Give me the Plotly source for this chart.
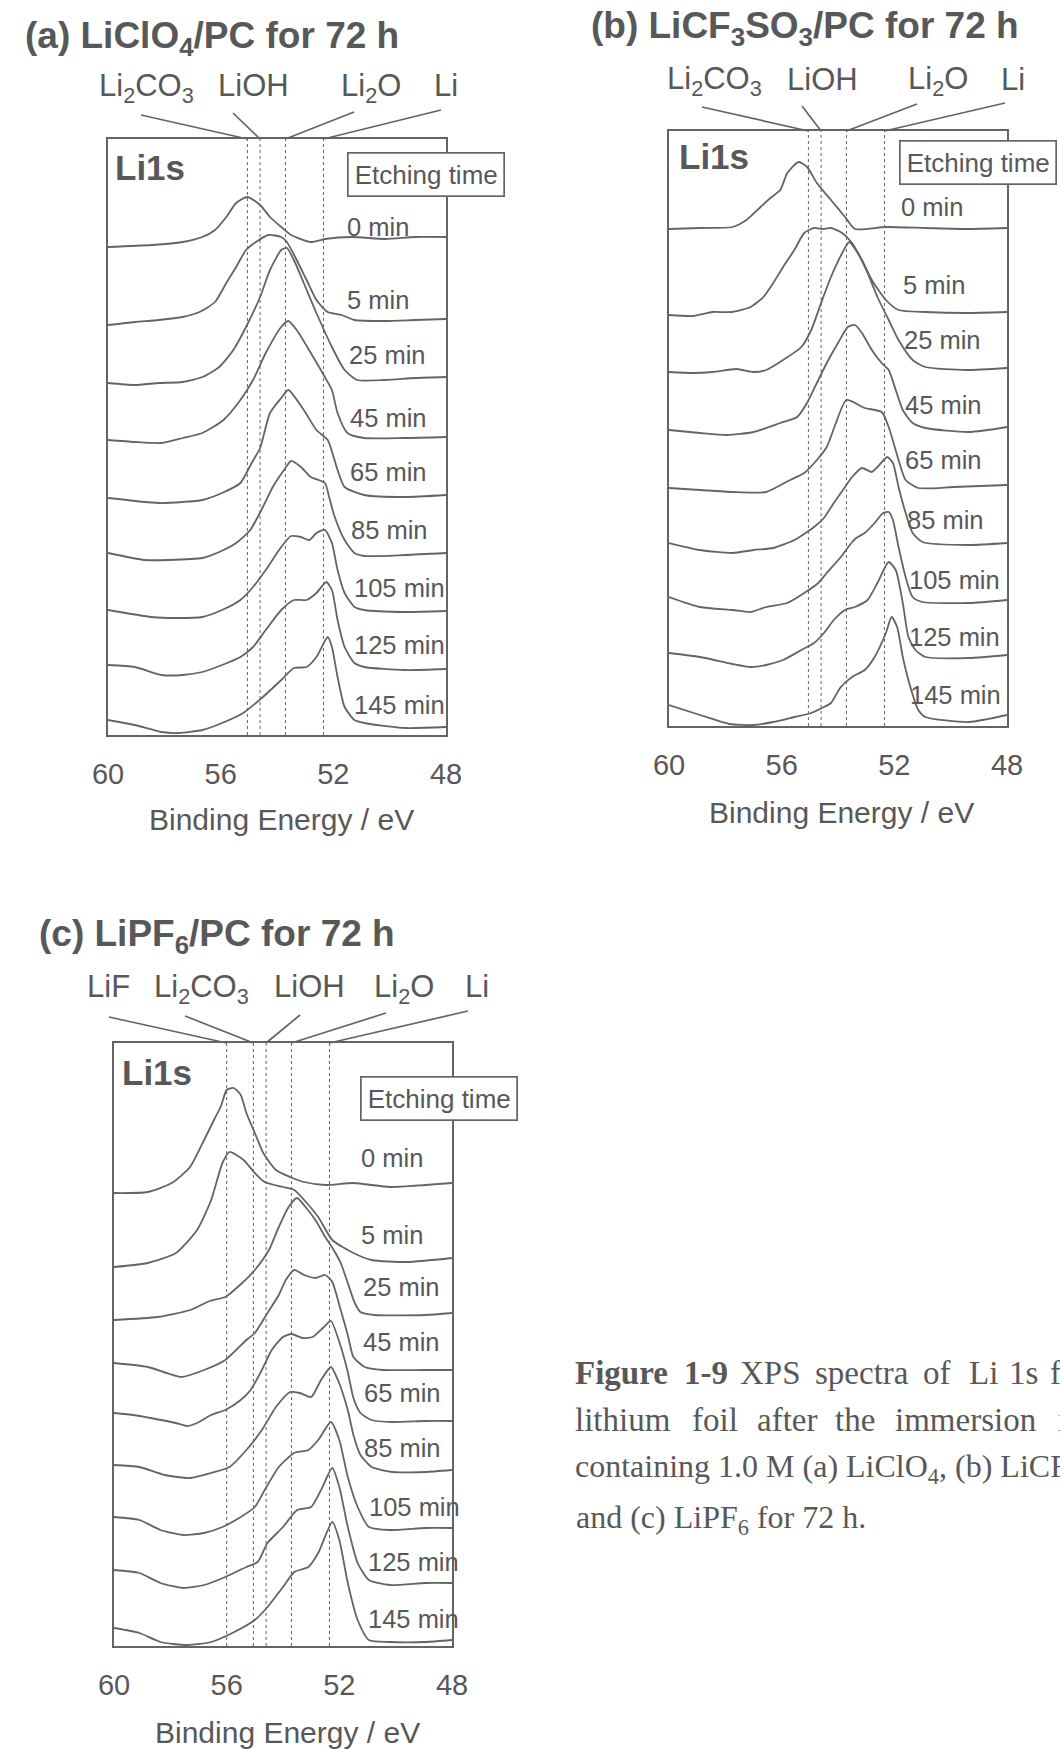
import plotly.graph_objects as go

W, H = 1060, 1749
LINE = "#646464"
TXT = "#585858"
SANS = "Liberation Sans, Arial, sans-serif"
SERIF = "Liberation Serif, Times New Roman, serif"

# ---------------- data ----------------
TIMES = ["0 min", "5 min", "25 min", "45 min", "65 min", "85 min", "105 min", "125 min", "145 min"]
TICKS = [60, 56, 52, 48]

COMPOUNDS_AB = ["Li<sub>2</sub>CO<sub>3</sub>", "LiOH", "Li<sub>2</sub>O", "Li"]
COMPOUNDS_C = ["LiF", "Li<sub>2</sub>CO<sub>3</sub>", "LiOH", "Li<sub>2</sub>O", "Li"]
REF_E_AB = [55.05, 54.6, 53.7, 52.35]
REF_E_C = [56.0, 55.05, 54.6, 53.7, 52.35]

# (a) LiClO4/PC  -- binding energy (eV) / intensity (a.u.)
A_E = [
    [60, 58.45, 57.35, 56.65, 56.2, 55.8, 55.45, 55.05, 54.6, 54.25, 53.85, 53.5, 52.8, 52.3, 51.35, 50.15, 49.1, 48.0],
    [60, 59.05, 58.2, 57.35, 56.75, 56.2, 55.8, 55.45, 55.1, 54.75, 54.3, 53.85, 53.65, 53.3, 52.95, 52.6, 52.2, 51.7, 51.25, 50.15, 49.1, 48.0],
    [60, 59.05, 58.2, 57.35, 56.65, 56.05, 55.55, 55.1, 54.6, 54.25, 53.85, 53.65, 53.4, 53.05, 52.6, 52.05, 51.6, 51.15, 50.15, 49.1, 48.0],
    [60, 59.05, 58.1, 57.35, 56.65, 55.9, 55.3, 54.85, 54.4, 53.85, 53.6, 53.3, 52.8, 52.3, 52.05, 51.85, 51.5, 50.9, 49.45, 48.0],
    [60, 58.2, 57.35, 56.65, 55.95, 55.3, 54.9, 54.6, 54.25, 53.85, 53.6, 53.05, 52.6, 52.2, 51.85, 51.6, 50.9, 49.45, 48.0],
    [60, 58.7, 57.85, 56.65, 56.05, 55.45, 54.95, 54.5, 54.15, 53.75, 53.5, 53.15, 52.8, 52.3, 52.15, 51.95, 51.6, 51.25, 50.9, 49.45, 48.0],
    [60, 58.45, 57.6, 56.65, 55.95, 55.3, 54.85, 54.4, 53.85, 53.5, 53.15, 52.85, 52.6, 52.3, 52.05, 51.85, 51.6, 51.25, 50.9, 49.45, 48.0],
    [60, 59.05, 58.1, 57.35, 56.65, 55.95, 55.3, 54.85, 54.4, 53.85, 53.4, 52.95, 52.6, 52.25, 52.05, 51.85, 51.6, 51.25, 50.9, 49.45, 48.0],
    [60, 59.05, 58.1, 57.5, 56.65, 55.95, 55.2, 54.5, 53.85, 53.4, 52.95, 52.6, 52.2, 52.05, 51.85, 51.6, 51.25, 50.9, 49.45, 48.0],
]
A_I = [
    [488, 490, 493, 498, 505, 518, 532, 538, 530, 518, 508, 500, 493, 496, 498, 496, 498, 498],
    [410, 413, 415, 418, 423, 433, 452, 468, 485, 493, 500, 498, 493, 475, 455, 435, 423, 420, 415, 414, 415, 416],
    [352, 350, 352, 353, 358, 368, 385, 408, 438, 465, 485, 487, 475, 452, 422, 388, 365, 355, 355, 357, 358],
    [295, 293, 292, 297, 302, 315, 335, 355, 382, 408, 414, 405, 382, 358, 345, 322, 302, 297, 297, 298],
    [237, 232, 233, 235, 242, 252, 272, 287, 322, 337, 345, 325, 305, 295, 265, 248, 240, 238, 240],
    [182, 175, 175, 177, 183, 192, 205, 228, 248, 265, 274, 268, 258, 252, 238, 218, 195, 182, 179, 180, 182],
    [125, 118, 117, 118, 125, 135, 148, 165, 188, 199, 198, 195, 202, 205, 192, 165, 142, 128, 125, 123, 124],
    [70, 68, 60, 60, 63, 70, 78, 88, 105, 125, 135, 135, 142, 153, 145, 115, 88, 72, 68, 65, 66],
    [15, 10, 3, 2, 5, 12, 22, 38, 55, 67, 68, 78, 98, 88, 58, 28, 15, 12, 7, 8],
]

# (b) LiCF3SO3/PC
B_E = [
    [60, 58.9, 57.75, 57.25, 56.75, 56.4, 56.05, 55.8, 55.4, 55.1, 54.75, 54.25, 53.75, 53.4, 52.3, 50.9, 49.45, 48.0],
    [60, 59.15, 58.45, 57.75, 57.1, 56.65, 56.3, 55.95, 55.55, 55.2, 54.85, 54.55, 54.25, 53.85, 53.5, 53.15, 52.8, 52.3, 51.85, 50.9, 49.45, 48.0],
    [60, 59.15, 58.45, 57.6, 57.0, 56.55, 55.95, 55.3, 54.95, 54.6, 54.25, 53.85, 53.6, 53.3, 52.95, 52.6, 52.2, 51.85, 51.35, 50.9, 49.45, 48.0],
    [60, 58.9, 57.95, 57.0, 56.05, 55.45, 55.1, 54.75, 54.4, 54.0, 53.65, 53.4, 53.15, 52.8, 52.45, 52.2, 51.95, 51.7, 51.35, 50.9, 49.35, 48.0],
    [60, 58.9, 57.75, 56.55, 55.7, 55.2, 54.75, 54.4, 54.1, 53.7, 53.05, 52.45, 52.2, 51.85, 51.6, 51.15, 49.9, 48.0],
    [60, 58.9, 57.75, 57.0, 56.3, 55.55, 54.85, 54.5, 54.15, 53.75, 53.5, 53.15, 52.8, 52.6, 52.25, 52.05, 51.85, 51.6, 51.35, 51.0, 49.35, 48.0],
    [60, 58.9, 57.75, 57.1, 56.55, 55.8, 55.2, 54.7, 54.4, 53.9, 53.5, 53.35, 53.05, 52.7, 52.4, 52.2, 52.05, 51.85, 51.6, 51.35, 51.0, 49.35, 48.0],
    [60, 58.9, 57.75, 57.1, 56.55, 55.95, 55.3, 54.85, 54.5, 54.15, 53.75, 53.4, 52.95, 52.6, 52.2, 51.95, 51.7, 51.5, 51.25, 50.9, 49.35, 48.0],
    [60, 58.9, 57.85, 57.0, 56.3, 55.55, 54.95, 54.5, 54.25, 53.9, 53.5, 53.05, 52.7, 52.3, 52.1, 51.9, 51.7, 51.4, 51.15, 50.9, 49.35, 48.0],
]
B_I = [
    [497, 498, 499, 506, 519, 528, 536, 553, 564, 559, 543, 526, 509, 497, 499, 498, 497, 498],
    [411, 410, 414, 414, 419, 429, 443, 459, 476, 493, 498, 497, 498, 493, 483, 466, 446, 426, 416, 414, 413, 414],
    [354, 353, 354, 357, 354, 356, 366, 379, 396, 423, 449, 473, 484, 473, 453, 429, 406, 386, 366, 359, 356, 358],
    [296, 293, 291, 294, 303, 309, 323, 343, 363, 383, 399, 401, 393, 376, 363, 356, 336, 316, 303, 298, 294, 299],
    [238, 236, 234, 234, 246, 253, 266, 279, 301, 326, 318, 314, 299, 266, 246, 238, 239, 241],
    [183, 176, 173, 176, 178, 186, 199, 208, 223, 239, 249, 258, 254, 259, 269, 263, 239, 213, 193, 184, 181, 183],
    [129, 119, 116, 114, 119, 123, 133, 143, 153, 169, 184, 188, 193, 203, 213, 214, 206, 179, 149, 129, 124, 123, 126],
    [73, 69, 62, 59, 61, 66, 76, 83, 93, 106, 116, 119, 126, 143, 164, 156, 123, 89, 76, 69, 68, 71],
    [21, 11, 2, 1, 4, 9, 13, 19, 23, 39, 49, 56, 69, 93, 109, 99, 69, 36, 16, 9, 4, 11],
]

# (c) LiPF6/PC
C_E = [
    [60, 58.8, 57.95, 57.3, 56.8, 56.45, 56.2, 56.0, 55.75, 55.5, 55.3, 55.0, 54.7, 54.25, 53.75, 53.25, 52.5, 51.5, 50.2, 48.95, 48.0],
    [60, 58.8, 57.8, 57.05, 56.55, 56.15, 55.9, 55.4, 55.0, 54.65, 54.0, 53.6, 53.25, 52.75, 52.25, 51.5, 50.85, 49.6, 48.0],
    [60, 58.45, 57.3, 56.6, 56.05, 55.45, 55.0, 54.5, 54.15, 53.8, 53.5, 53.2, 52.85, 52.5, 52.2, 51.95, 51.7, 51.45, 51.25, 50.75, 48.95, 48.0],
    [60, 58.8, 57.6, 56.8, 56.05, 55.3, 55.0, 54.55, 54.15, 53.9, 53.6, 53.25, 52.85, 52.5, 52.25, 52.0, 51.7, 51.5, 51.1, 50.45, 48.95, 48.0],
    [60, 59.3, 58.7, 57.8, 57.4, 57.05, 56.55, 56.05, 55.5, 55.15, 54.75, 54.4, 54.0, 53.7, 53.3, 52.95, 52.55, 52.3, 52.0, 51.7, 51.5, 51.25, 50.85, 50.1, 48.95, 48.0],
    [60, 59.1, 58.2, 57.3, 56.55, 55.9, 55.3, 54.75, 54.25, 53.75, 53.4, 53.0, 52.65, 52.3, 52.05, 51.7, 51.5, 51.25, 50.85, 50.1, 48.95, 48.0],
    [60, 59.1, 58.35, 57.55, 56.8, 56.15, 55.5, 55.0, 54.65, 54.15, 53.6, 53.1, 52.75, 52.3, 52.0, 51.7, 51.35, 50.95, 50.2, 48.95, 48.0],
    [60, 59.1, 58.35, 57.55, 56.8, 56.05, 55.3, 54.9, 54.55, 54.0, 53.5, 53.0, 52.65, 52.25, 52.0, 51.7, 51.35, 50.95, 50.2, 48.95, 48.0],
    [60, 59.1, 58.35, 57.4, 56.55, 55.8, 55.0, 54.55, 54.0, 53.6, 53.1, 52.75, 52.25, 52.0, 51.7, 51.35, 50.95, 50.2, 48.95, 48.0],
]
C_I = [
    [453, 454, 463, 479, 506, 526, 540, 556, 558, 551, 533, 513, 493, 476, 469, 464, 461, 463, 459, 461, 463],
    [379, 383, 393, 416, 446, 483, 494, 486, 473, 464, 459, 456, 446, 429, 406, 393, 386, 384, 388],
    [326, 329, 336, 345, 349, 363, 376, 396, 419, 439, 448, 439, 426, 409, 396, 383, 363, 343, 334, 331, 331, 333],
    [283, 279, 269, 276, 286, 306, 313, 333, 351, 366, 376, 371, 368, 371, 364, 341, 311, 289, 279, 276, 276, 276],
    [233, 231, 228, 223, 220, 223, 231, 236, 246, 256, 276, 296, 309, 312, 308, 309, 319, 325, 304, 274, 248, 233, 226, 224, 225, 225],
    [181, 179, 171, 168, 173, 179, 196, 216, 239, 254, 253, 249, 266, 279, 266, 236, 211, 191, 179, 174, 174, 176],
    [129, 126, 116, 111, 113, 119, 129, 139, 156, 179, 193, 196, 206, 224, 206, 169, 139, 119, 116, 118, 118],
    [76, 73, 63, 58, 61, 69, 79, 84, 103, 119, 136, 139, 156, 178, 159, 119, 83, 66, 61, 63, 63],
    [18, 13, 4, 1, 4, 13, 26, 39, 59, 74, 79, 93, 124, 106, 63, 26, 6, 4, 4, 6],
]

# ---------------- layout (pixel positions) ----------------
PANELS = [
    dict(E=A_E, I=A_I, box=(108, 139, 446, 735),
         title="(a) LiClO<sub>4</sub>/PC for 72 h", title_pos=(23, 38),
         comps=COMPOUNDS_AB, refs=REF_E_AB,
         comp_pos=[(146, 88), (253, 86), (371, 88), (446, 86)],
         leaders=[(141, 115), (233, 113), (354, 112), (441, 110)],
         li1s=(113, 167), etch=(426, 175),
         tx=[345, 345, 347, 348, 348, 349, 352, 352, 352],
         ty=[227, 300, 355, 418, 472, 530, 588, 645, 705],
         xtitle=(281, 820)),
    dict(E=B_E, I=B_I, box=(669, 131, 1007, 726),
         title="(b) LiCF<sub>3</sub>SO<sub>3</sub>/PC for 72 h", title_pos=(589, 28),
         comps=COMPOUNDS_AB, refs=REF_E_AB,
         comp_pos=[(714, 81), (822, 79), (938, 81), (1013, 79)],
         leaders=[(702, 107), (802, 106), (917, 104), (1005, 103)],
         li1s=(677, 156), etch=(978, 162),
         tx=[899, 901, 902, 903, 903, 905, 907, 907, 908],
         ty=[207, 285, 340, 405, 460, 520, 580, 637, 695],
         xtitle=(841, 812)),
    dict(E=C_E, I=C_I, box=(114, 1043, 452, 1646),
         title="(c) LiPF<sub>6</sub>/PC for 72 h", title_pos=(37, 936),
         comps=COMPOUNDS_C, refs=REF_E_C,
         comp_pos=[(108, 987), (201, 989), (309, 987), (404, 989), (477, 987)],
         leaders=[(109, 1017), (185, 1016), (300, 1015), (386, 1013), (468, 1011)],
         li1s=(120, 1072), etch=(439, 1098),
         tx=[359, 359, 361, 361, 362, 362, 367, 366, 366],
         ty=[1158, 1235, 1287, 1342, 1393, 1448, 1507, 1562, 1619],
         xtitle=(287, 1732)),
]


def fx(x):
    return x / W


def fy(y):
    return 1 - y / H


fig = go.Figure()
annotations = []
shapes = []

for k, p in enumerate(PANELS):
    sfx = "" if k == 0 else str(k + 1)
    x0, y0, x1, y1 = p["box"]
    for E, I in zip(p["E"], p["I"]):
        fig.add_trace(go.Scatter(
            x=E, y=I, mode="lines", xaxis="x" + sfx, yaxis="y" + sfx,
            line=dict(color=LINE, width=1.8, shape="spline", smoothing=0.6),
            showlegend=False, hoverinfo="skip"))
    fig.layout["xaxis" + sfx] = dict(
        domain=[fx(x0), fx(x1)], range=[60, 48], anchor="y" + sfx,
        tickvals=TICKS, ticks="", showline=True, mirror=True, automargin=False,
        linecolor=LINE, linewidth=1.7, showgrid=False, zeroline=False,
        tickfont=dict(size=29, color=TXT, family=SANS), ticklabelstandoff=12)
    fig.layout["yaxis" + sfx] = dict(
        domain=[fy(y1), fy(y0)], range=[0, y1 - y0], anchor="x" + sfx,
        showticklabels=False, ticks="", showline=True, mirror=True, automargin=False,
        linecolor=LINE, linewidth=1.7, showgrid=False, zeroline=False)

    for e in p["refs"]:
        shapes.append(dict(type="line", xref="x" + sfx, yref="y" + sfx + " domain",
                           x0=e, x1=e, y0=0, y1=1,
                           line=dict(color=LINE, width=1, dash="3px,3px")))
    for (sx, sy), e in zip(p["leaders"], p["refs"]):
        ex = x0 + (60 - e) / 12 * (x1 - x0)
        shapes.append(dict(type="line", xref="paper", yref="paper",
                           x0=fx(sx), y0=fy(sy), x1=fx(ex), y1=fy(y0),
                           line=dict(color=LINE, width=1.7)))
    for txt, (cx, cy) in zip(p["comps"], p["comp_pos"]):
        annotations.append(dict(text=txt, x=fx(cx), y=fy(cy), xref="paper", yref="paper",
                                xanchor="center", yanchor="middle", showarrow=False,
                                font=dict(size=31, color=TXT, family=SANS)))
    tx0, ty0 = p["title_pos"]
    annotations.append(dict(text="<b>" + p["title"] + "</b>", x=fx(tx0), y=fy(ty0),
                            xref="paper", yref="paper", xanchor="left", yanchor="middle",
                            showarrow=False, font=dict(size=37, color=TXT, family=SANS)))
    annotations.append(dict(text="<b>Li1s</b>", x=fx(p["li1s"][0]), y=fy(p["li1s"][1]),
                            xref="paper", yref="paper", xanchor="left", yanchor="middle",
                            showarrow=False, font=dict(size=35, color=TXT, family=SANS)))
    annotations.append(dict(text="Etching time", x=fx(p["etch"][0]), y=fy(p["etch"][1]),
                            xref="paper", yref="paper", xanchor="center", yanchor="middle",
                            showarrow=False, bgcolor="white", bordercolor=LINE,
                            borderwidth=1.7, borderpad=6,
                            font=dict(size=26, color=TXT, family=SANS)))
    for t, lx, ly in zip(TIMES, p["tx"], p["ty"]):
        annotations.append(dict(text=t, x=fx(lx), y=fy(ly), xref="paper", yref="paper",
                                xanchor="left", yanchor="middle", showarrow=False,
                                font=dict(size=25.5, color=TXT, family=SANS)))
    annotations.append(dict(text="Binding Energy / eV", x=fx(p["xtitle"][0]), y=fy(p["xtitle"][1]),
                            xref="paper", yref="paper", xanchor="center", yanchor="middle",
                            showarrow=False, font=dict(size=30, color=TXT, family=SANS)))

# ---------------- caption (cut off by the right page edge, as in the source) ----------------
CAP_FONT = dict(size=33, color=TXT, family=SERIF)
line1 = [("<b>Figure</b>", 573), ("<b>1-9</b>", 682), ("XPS", 738), ("spectra", 813),
         ("of", 921), ("Li", 967), ("1s", 1007), ("for", 1048)]
line2 = [("lithium", 573), ("foil", 690), ("after", 755), ("the", 833),
         ("immersion", 893), ("in", 1056)]
for words, yy in ((line1, 1373), (line2, 1420)):
    for w, xx in words:
        annotations.append(dict(text=w, x=fx(xx), y=fy(yy), xref="paper", yref="paper",
                                xanchor="left", yanchor="middle", showarrow=False,
                                font=CAP_FONT))
annotations.append(dict(text="containing 1.0 M (a) LiClO<sub>4</sub>, (b) LiCF<sub>3</sub>SO<sub>3</sub>,",
                        x=fx(573), y=fy(1468), xref="paper", yref="paper",
                        xanchor="left", yanchor="middle", showarrow=False,
                        font=dict(size=32, color=TXT, family=SERIF)))
annotations.append(dict(text="and (c) LiPF<sub>6</sub> for 72 h.",
                        x=fx(574), y=fy(1519), xref="paper", yref="paper",
                        xanchor="left", yanchor="middle", showarrow=False,
                        font=dict(size=32, color=TXT, family=SERIF)))

fig.update_layout(template="none", width=W, height=H, autosize=False,
                  margin=dict(l=0, r=0, t=0, b=0, pad=0, autoexpand=False),
                  paper_bgcolor="white", plot_bgcolor="white",
                  annotations=annotations, shapes=shapes, showlegend=False)

fig.write_html("out.html", config={"responsive": False})
